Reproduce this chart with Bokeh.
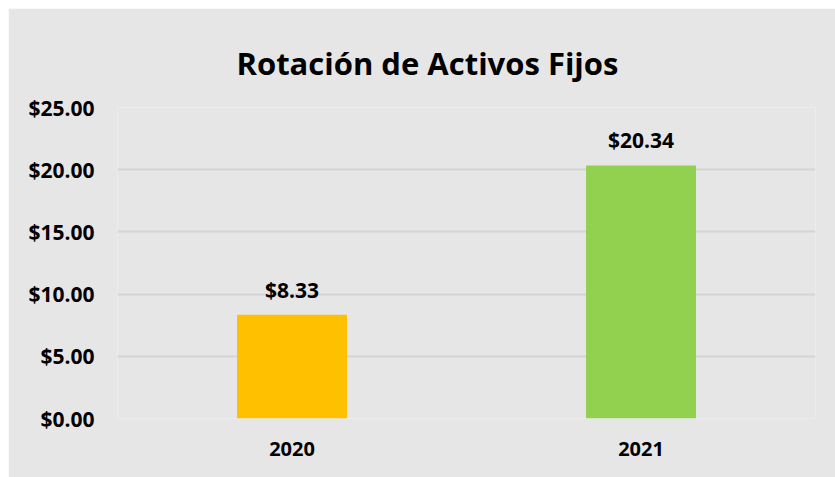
from bokeh.plotting import figure
from bokeh.models import ColumnDataSource, LabelSet, NumeralTickFormatter, FixedTicker, Range1d
from bokeh.core.properties import value
from bokeh.embed import file_html
from bokeh.resources import INLINE

years = ["2020", "2021"]
values = [8.33, 20.34]
colors = ["#FFC000", "#92D050"]
labels = ["$8.33", "$20.34"]
y_ticks = [0, 5, 10, 15, 20, 25]
title_text = "Rotación de Activos Fijos"

BG = "#E7E6E6"
FONT = "Open Sans"

src = ColumnDataSource(dict(x=years, top=values, color=colors, label=labels))

p = figure(x_range=years, y_range=Range1d(0, 25), width=827, height=469,
           output_backend="svg", toolbar_location=None,
           min_border_left=109, min_border_right=20, min_border_bottom=59, min_border_top=99)
p.margin = (8, 0, 0, 8)

p.title.text = title_text
p.title.align = "left"
p.title.text_font = FONT
p.title.text_font_style = "bold"
p.title.text_font_size = "31px"
p.title.text_color = "#000000"
p.title.offset = 119
p.title.standoff = 48

p.vbar(x="x", top="top", width=0.315, color="color", source=src, line_color=None)

p.add_layout(LabelSet(x="x", y="top", text="label", source=src, y_offset=11,
                      text_align="center", text_baseline="bottom",
                      text_font=value(FONT), text_font_style="bold", text_font_size="21px",
                      text_color="#000000"))

p.background_fill_color = BG
p.border_fill_color = BG
p.outline_line_color = None

p.yaxis.ticker = FixedTicker(ticks=y_ticks)
p.yaxis.formatter = NumeralTickFormatter(format="$0.00")
for ax in (p.xaxis, p.yaxis):
    ax.axis_line_color = None
    ax.major_tick_line_color = None
    ax.minor_tick_line_color = None
    ax.major_label_text_font = FONT
    ax.major_label_text_font_style = "bold"
    ax.major_label_text_color = "#000000"
p.yaxis.major_label_text_font_size = "21px"
p.xaxis.major_label_text_font_size = "20px"
p.yaxis.major_label_standoff = 17
p.xaxis.major_label_standoff = 17

p.xgrid.grid_line_color = None
p.ygrid.grid_line_color = "#D4D4D4"
p.ygrid.grid_line_width = 2
p.x_range.range_padding = 0

open("out.html", "w").write(file_html(p, INLINE))
